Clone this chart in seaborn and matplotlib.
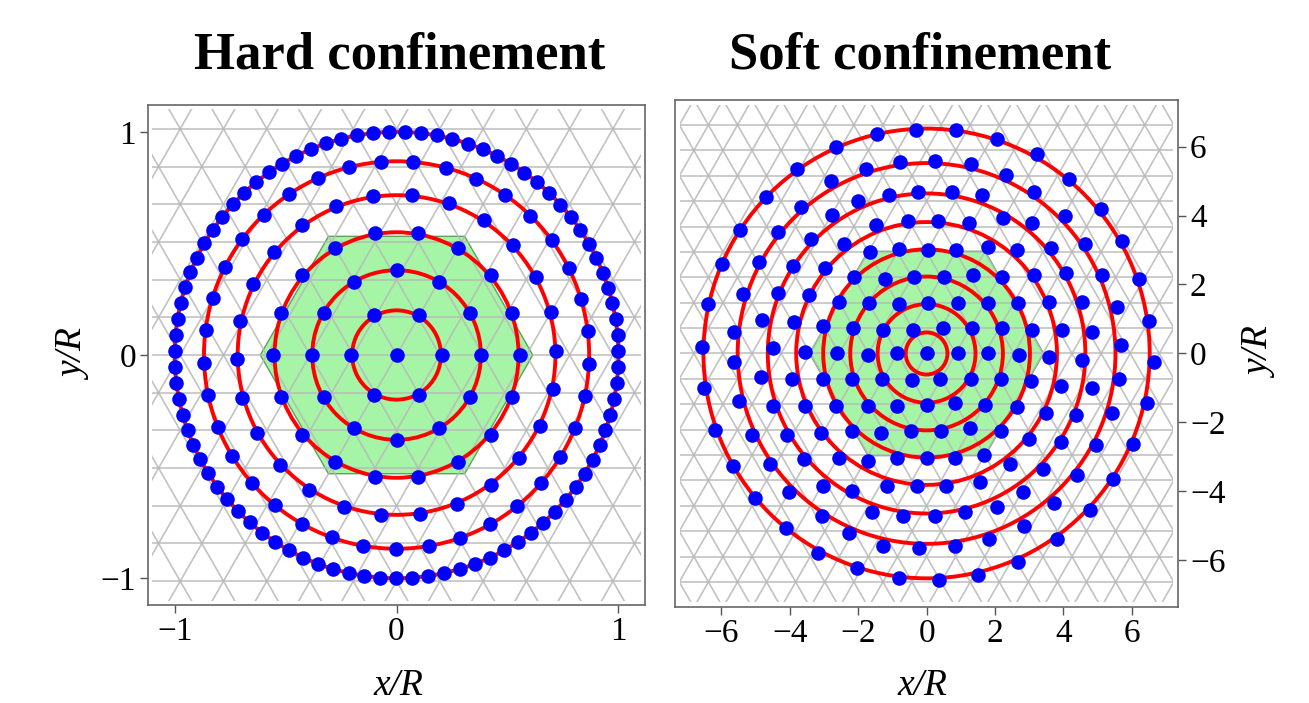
import numpy as np
import matplotlib
matplotlib.use("Agg")
import matplotlib.pyplot as plt
import seaborn as sns
from matplotlib.patches import Circle, RegularPolygon, Rectangle
from matplotlib.collections import LineCollection

# --- Hard confinement: shells of particles (radius, occupation, angular offset in deg)
hard_shell_radius = [0.0, 0.205, 0.38, 0.555, 0.72, 0.868, 1.0]
hard_shell_count = [1, 6, 12, 18, 26, 37, 87]
hard_shell_phase = [0, 0, 0, 0, 1.5, -2.6, 1.0]
hard_ring_radius = [0.2, 0.38, 0.55, 0.716, 0.868, 1.0]
hard_hex_radius = 0.614
hard_lattice = 0.195

# --- Soft confinement: particle positions
soft_x = [
    -0.31, 0.85, -1.45, 2.05, -2.64, 3.22, -0.78, 0.24, 1.29, -3.80, -1.76, 2.33, 4.17, -2.79,
    -0.24, 0.73, -1.09, 1.63, 3.15, -4.70, -1.99, -3.66, 5.09, -2.76, 4.05,
    -1.47, -0.53, 0.32, 1.24, 2.23, 3.08, -5.45, -4.34, -3.37, 5.72, -2.42, 1.79, 4.63, 3.63,
    -1.65, -0.82, 0.03, 0.87, 2.65,
    -5.99, -4.89, -3.90, -2.98, -2.13, -1.21, -0.36, 0.50, 1.36, 2.21, 3.15, 4.07, 5.12, 6.20,
    -5.35, -4.34, -3.44, -6.40, -2.57, -1.68, -0.80, 0.05, 0.92, 1.79, 2.66, 3.59, 4.53, 5.55, 6.49,
    -4.80, -3.86, -3.03, -2.15, -1.26, -0.41, 0.47, 1.34, 2.21, 3.08, 3.95, 4.84, -5.62,
    -6.57, -4.49, -3.54, -2.62, -1.72, -0.85, 0.00, 0.92, 1.79, 2.69, 3.59, 4.55, 5.67, 6.64, -5.62,
    -6.49, -4.83, -3.92, -3.03, -2.18, -1.31, -0.44, 0.39, 1.31, 2.18, 3.05, 3.92, 4.83, 5.62,
    -5.47, -4.48, -3.54, -2.64, -1.72, -0.85, 0.00, 0.82, 1.70, 2.65, 3.49, 4.38, 5.41, 6.44,
    -6.17, -5.09, -4.07, -3.08, -2.18, -1.33, -0.46, 0.41, 1.28, 2.18, 2.98, 3.92, 4.94, 6.04,
    -5.67, -4.57, -3.59, -2.57, -1.72, -0.85, 0.00, 0.82, 1.68, 2.44, 3.41, 4.41, 5.46,
    -4.02, -3.03, -2.18, -1.16, -0.27, 0.58, 1.55, 2.83, 3.73, -5.01,
    -3.07, -1.60, -0.68, 0.24, 1.11, 2.06, 4.77,
    -4.12, -2.26, 2.86, 3.81,
    -1.26, -0.21, 0.82, 1.82, -3.17, 2.66, -2.03, -0.81, 0.37, 1.50,
]
soft_y = [
    6.49, 6.49, 6.37, 6.23, 5.99, 5.77, 5.54, 5.59, 5.49, 5.36, 5.36, 5.18, 5.06, 4.99,
    4.68, 4.68, 4.60, 4.60, 4.68, 4.55, 4.41, 4.26, 4.19, 4.02, 4.00,
    3.73, 3.83, 3.83, 3.78, 3.92, 3.78, 3.59, 3.51, 3.32, 3.25, 3.18, 3.10, 3.17, 3.05,
    2.94, 3.02, 3.00, 3.00, 3.00,
    2.59, 2.64, 2.54, 2.47, 2.23, 2.16, 2.23, 2.23, 2.28, 2.23, 2.28, 2.33, 2.28, 2.15,
    1.72, 1.76, 1.70, 1.42, 1.50, 1.45, 1.42, 1.45, 1.45, 1.45, 1.45, 1.50, 1.50, 1.36, 0.95,
    0.97, 0.92, 0.79, 0.73, 0.68, 0.68, 0.73, 0.73, 0.73, 0.68, 0.68, 0.63, 0.63,
    0.19, 0.15, 0.05, 0.00, -0.03, 0.00, 0.00, 0.00, 0.00, -0.03, -0.10, -0.19, 0.24, -0.24, -0.24,
    -1.00, -0.68, -0.73, -0.75, -0.75, -0.75, -0.78, -0.75, -0.75, -0.75, -0.80, -0.95, -1.00, -0.73,
    -1.39, -1.52, -1.52, -1.52, -1.52, -1.52, -1.48, -1.43, -1.48, -1.55, -1.72, -1.79, -1.74, -1.45,
    -2.21, -2.35, -2.35, -2.30, -2.26, -2.30, -2.26, -2.26, -2.16, -2.26, -2.49, -2.57, -2.66, -2.62,
    -3.25, -3.20, -3.07, -3.02, -3.12, -3.02, -3.02, -3.02, -2.94, -3.20, -3.34, -3.52, -3.63,
    -4.02, -3.85, -3.99, -3.85, -3.85, -3.85, -3.73, -4.02, -4.33, -4.20,
    -4.70, -4.60, -4.72, -4.72, -4.60, -4.44, -4.55,
    -5.07, -5.20, -5.01, -5.38,
    -5.57, -5.64, -5.57, -5.38, -5.78, -6.06, -6.23, -6.51, -6.56, -6.41,
]
soft_ring_radius = [0.61, 1.43, 2.23, 3.02, 3.81, 4.64, 5.52, 6.52]
soft_hex_radius = 3.42
soft_lattice = 0.85

hard_ticks = [-1, 0, 1]
soft_ticks = [-6, -4, -2, 0, 2, 4, 6]

sns.set_theme(style="ticks")
plt.rcParams['font.family'] = ['Liberation Serif', 'DejaVu Serif']
plt.rcParams['axes.unicode_minus'] = True
plt.rcParams['text.color'] = 'black'
plt.rcParams['axes.labelcolor'] = 'black'


def draw_lattice(ax, a, half):
    # triangular lattice in the background, clipped to a square
    h = a * np.sqrt(3) / 2
    segs = []
    n = int(half / h) + 2
    for k in range(-n, n + 1):
        segs.append([(-half * 2, k * h), (half * 2, k * h)])
    m = int(3 * half / a) + 3
    L = 4 * half
    for j in range(-m, m + 1):
        x0 = j * a
        segs.append([(x0 - 0.5 * L, -0.866 * L), (x0 + 0.5 * L, 0.866 * L)])
        segs.append([(x0 + 0.5 * L, -0.866 * L), (x0 - 0.5 * L, 0.866 * L)])
    lc = LineCollection(segs, colors='#b8b8b8', linewidths=1.2, alpha=0.85, zorder=2)
    ax.add_collection(lc)
    lc.set_clip_path(Rectangle((-half, -half), 2 * half, 2 * half, transform=ax.transData))


def draw_panel(ax, xs, ys, rings, hex_r, a, half, lim, ticks):
    ax.add_patch(RegularPolygon((0, 0), 6, radius=hex_r, orientation=np.pi / 6,
                                facecolor='#a6f5a6', edgecolor='#5f9f5f', lw=1.0, zorder=1))
    draw_lattice(ax, a, half)
    for r in rings:
        ax.add_patch(Circle((0, 0), r, fill=False, edgecolor='#ff0000', lw=2.8, zorder=4))
    sns.scatterplot(x=xs, y=ys, ax=ax, color='#0000ff', s=110, linewidth=0, zorder=5)
    ax.set_xlim(-lim, lim)
    ax.set_ylim(-lim, lim)
    ax.set_xticks(ticks)
    ax.set_yticks(ticks)
    ax.tick_params(direction='out', length=5.5, width=1.0, color='#555555',
                   labelsize=24, labelcolor='black', pad=3)
    for sp in ax.spines.values():
        sp.set_color('#666666')
        sp.set_linewidth(1.2)
        sp.set_visible(True)
    ax.set_facecolor('white')


# hard confinement points from shell data
hx, hy = [], []
for r, n, ph in zip(hard_shell_radius, hard_shell_count, hard_shell_phase):
    ang = np.deg2rad(ph + 360.0 * np.arange(n) / n)
    hx.extend(r * np.cos(ang))
    hy.extend(r * np.sin(ang))

fig = plt.figure(figsize=(13.09, 7.03), dpi=100)
ax1 = fig.add_axes([0.1131, 0.1394, 0.3797, 0.7112])
ax2 = fig.add_axes([0.5157, 0.1366, 0.3843, 0.7212])

draw_panel(ax1, hx, hy, hard_ring_radius, hard_hex_radius, hard_lattice, 1.1, 1.12, hard_ticks)
draw_panel(ax2, soft_x, soft_y, soft_ring_radius, soft_hex_radius, soft_lattice, 7.2, 7.35, soft_ticks)

ax2.yaxis.tick_right()
ax2.yaxis.set_label_position('right')

ax1.set_xlabel('x/R', fontsize=27, style='italic', va='baseline')
ax1.xaxis.set_label_coords(0.503, -0.18)
ax1.set_ylabel('y/R', fontsize=27, style='italic', rotation=90, va='center', ha='center',
               rotation_mode='default')
ax1.yaxis.set_label_coords(-0.147, 0.5)

ax2.set_xlabel('x/R', fontsize=27, style='italic', va='baseline')
ax2.xaxis.set_label_coords(0.491, -0.174)
ax2.set_ylabel('y/R', fontsize=27, style='italic', rotation=90, va='center', ha='center',
               rotation_mode='default')
ax2.yaxis.set_label_coords(1.165, 0.5)

fig.text(0.3056, 0.903, 'Hard confinement', fontsize=38, fontweight='bold',
         ha='center', va='baseline', color='black')
fig.text(0.703, 0.903, 'Soft confinement', fontsize=38, fontweight='bold',
         ha='center', va='baseline', color='black')

fig.savefig('out.png', dpi=100)
